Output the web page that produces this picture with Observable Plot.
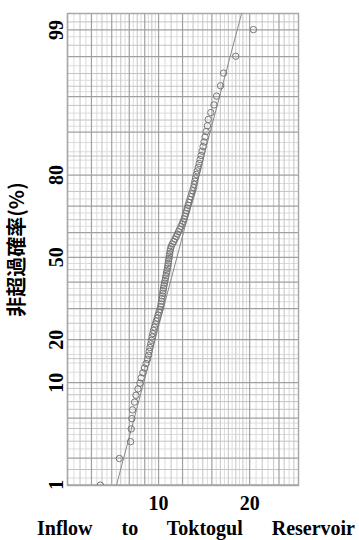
<!DOCTYPE html>
<html>
<head>
<meta charset="utf-8">
<script src="https://cdn.jsdelivr.net/npm/d3@7"></script>
<script src="https://cdn.jsdelivr.net/npm/@observablehq/plot@0.6"></script>
<style>
  html, body { margin: 0; padding: 0; background: #fff; }
  #wrap { position: relative; width: 359px; height: 540px; overflow: hidden; }
  #xtitle {
    position: absolute; left: 37px; top: 517px; width: 318px;
    font: bold 20px "Liberation Serif", "Times New Roman", serif;
    line-height: 22px; text-align: justify; text-align-last: justify;
    white-space: nowrap;
  }
</style>
</head>
<body>
<div id="wrap">
  <div id="chart"></div>
  <div id="xtitle">Inflow to Toktogul Reservoir</div>
</div>
<script>
// Annual inflow, sorted ascending (one value per year)
const inflow = [
  6.42, 7.42, 8.08, 8.12, 8.16, 8.20, 8.33, 8.42, 8.55, 8.68,
  8.76, 8.87, 8.98, 9.09, 9.19, 9.27, 9.31, 9.36, 9.42, 9.47,
  9.52, 9.57, 9.62, 9.69, 9.76, 9.83, 9.90, 9.96, 10.03, 10.10,
  10.16, 10.19, 10.22, 10.25, 10.28, 10.32, 10.35, 10.38, 10.42, 10.46,
  10.50, 10.54, 10.58, 10.62, 10.66, 10.70, 10.73, 10.76, 10.79, 10.82,
  10.85, 10.88, 10.91, 10.95, 11.01, 11.10, 11.22, 11.33, 11.43, 11.54,
  11.64, 11.75, 11.85, 11.96, 12.06, 12.15, 12.22, 12.30, 12.37, 12.44,
  12.52, 12.60, 12.69, 12.78, 12.87, 12.96, 13.05, 13.12, 13.18, 13.24,
  13.34, 13.43, 13.53, 13.62, 13.72, 13.82, 13.92, 14.03, 14.13, 14.24,
  14.36, 14.50, 14.59, 14.88, 15.24, 15.55, 16.03, 16.40, 17.98, 20.58
];

// Fitted log-normal distribution (parameters of ln inflow)
const fitMu = 2.442;
const fitSigma = 0.1973;

// Axes
const xDomain = [5, 29];
const xTickValues = [5, 10, 20];
const yDomainPct = [0.98, 99.37];
const yTickValues = [1, 10, 20, 50, 80, 99];

// Probability paper rulings
const xMajorGrid = [5, 6, 7, 8, 9, 10, 12, 15, 20, 25];
const xMidGrid = [5.5, 6.5, 7.5, 8.5, 9.5, 11, 13, 14, 16, 17, 18, 19, 22, 24, 26, 28];
const xFineGrid = [
  ...d3.range(5.25, 10, 0.5),
  ...d3.range(10.5, 20, 1),
  21, 23, 27
];
const yMajorGrid = [1, 2, 5, 10, 20, 30, 40, 50, 60, 70, 80, 90, 95, 98, 99];
const yMidGrid = [1.5, 3, 4, 6, 7, 8, 9, 15, 25, 35, 45, 55, 65, 75, 85, 92, 94, 96, 97, 98.5, 99.2];
const yFineGrid = [1.2, 2.5, 3.5, 4.5, 12, 14, 16, 18, 22.5, 27.5, 32.5, 37.5, 42.5, 47.5,
  52.5, 57.5, 62.5, 67.5, 72.5, 77.5, 82, 84, 86, 88, 91, 93, 95.5, 96.5, 97.5, 98.8];

// Inverse of the standard normal CDF (Acklam's rational approximation)
function probit(p) {
  const a = [-3.969683028665376e+01, 2.209460984245205e+02, -2.759285104469687e+02,
             1.383577518672690e+02, -3.066479806614716e+01, 2.506628277459239e+00];
  const b = [-5.447609879822406e+01, 1.615858368580409e+02, -1.556989798598866e+02,
             6.680131188771972e+01, -1.328068155288572e+01];
  const c = [-7.784894002430293e-03, -3.223964580411365e-01, -2.400758277161838e+00,
             -2.549732539343734e+00, 4.374664141464968e+00, 2.938163982698783e+00];
  const d = [7.784695709041462e-03, 3.224671290700398e-01, 2.445134137142996e+00,
             3.754408661907416e+00];
  const plow = 0.02425;
  if (p < plow) {
    const q = Math.sqrt(-2 * Math.log(p));
    return (((((c[0]*q+c[1])*q+c[2])*q+c[3])*q+c[4])*q+c[5]) /
           ((((d[0]*q+d[1])*q+d[2])*q+d[3])*q+1);
  }
  if (p <= 1 - plow) {
    const q = p - 0.5, r = q * q;
    return (((((a[0]*r+a[1])*r+a[2])*r+a[3])*r+a[4])*r+a[5])*q /
           (((((b[0]*r+b[1])*r+b[2])*r+b[3])*r+b[4])*r+1);
  }
  const q = Math.sqrt(-2 * Math.log(1 - p));
  return -(((((c[0]*q+c[1])*q+c[2])*q+c[3])*q+c[4])*q+c[5]) /
          ((((d[0]*q+d[1])*q+d[2])*q+d[3])*q+1);
}
const zOf = pct => probit(pct / 100);

// Weibull plotting positions
const n = inflow.length;
const points = inflow.map((v, i) => ({inflow: v, z: probit((i + 1) / (n + 1))}));

// Fitted line across the full probability range
const yDomain = yDomainPct.map(zOf);
const fitLine = yDomain.map(z => ({z, inflow: Math.exp(fitMu + fitSigma * z)}));

const yTickZ = yTickValues.map(zOf);
const yTickLabel = new Map(yTickZ.map((z, i) => [z, String(yTickValues[i])]));

const serif = "Liberation Serif, Times New Roman, serif";

const chart = Plot.plot({
  width: 359,
  height: 515,
  marginLeft: 67,
  marginRight: 61,
  marginTop: 13,
  marginBottom: 30,
  x: {type: "log", domain: xDomain},
  y: {type: "linear", domain: yDomain},
  marks: [
    Plot.ruleX(xFineGrid, {stroke: "#dcdcdc", strokeWidth: 1}),
    Plot.ruleY(yFineGrid.map(zOf), {stroke: "#dcdcdc", strokeWidth: 1}),
    Plot.ruleX(xMidGrid, {stroke: "#c4c4c4", strokeWidth: 1}),
    Plot.ruleY(yMidGrid.map(zOf), {stroke: "#c4c4c4", strokeWidth: 1}),
    Plot.ruleX(xMajorGrid, {stroke: "#a0a0a0", strokeWidth: 1.2}),
    Plot.ruleY(yMajorGrid.map(zOf), {stroke: "#a0a0a0", strokeWidth: 1.2}),
    Plot.frame({stroke: "#a8a8a8", strokeWidth: 1.5}),
    Plot.line(fitLine, {x: "inflow", y: "z", stroke: "#8a8a8a", strokeWidth: 1, clip: true}),
    Plot.dot(points, {x: "inflow", y: "z", r: 3.2, stroke: "#767676", strokeWidth: 1, fill: "none", clip: true}),
    Plot.axisX(xTickValues, {
      tickSize: 0, tickPadding: 10, tickFormat: d => String(d),
      fontSize: 20, fontWeight: "bold", fontFamily: serif, fill: "#000", label: null
    }),
    Plot.axisY(yTickZ, {
      tickSize: 0, tickPadding: 5, tickRotate: -90, tickFormat: z => yTickLabel.get(z),
      fontSize: 20, fontWeight: "bold", fontFamily: serif, fill: "#000", label: null
    }),
    Plot.text(["非超過確率(%)"], {
      frameAnchor: "left", dx: -50, rotate: -90,
      textAnchor: "middle", lineAnchor: "middle",
      fontSize: 20, fontWeight: "bold",
      fontFamily: "Noto Sans CJK JP, Noto Sans CJK SC, sans-serif", fill: "#000"
    })
  ]
});
document.getElementById("chart").appendChild(chart);
</script>
</body>
</html>
